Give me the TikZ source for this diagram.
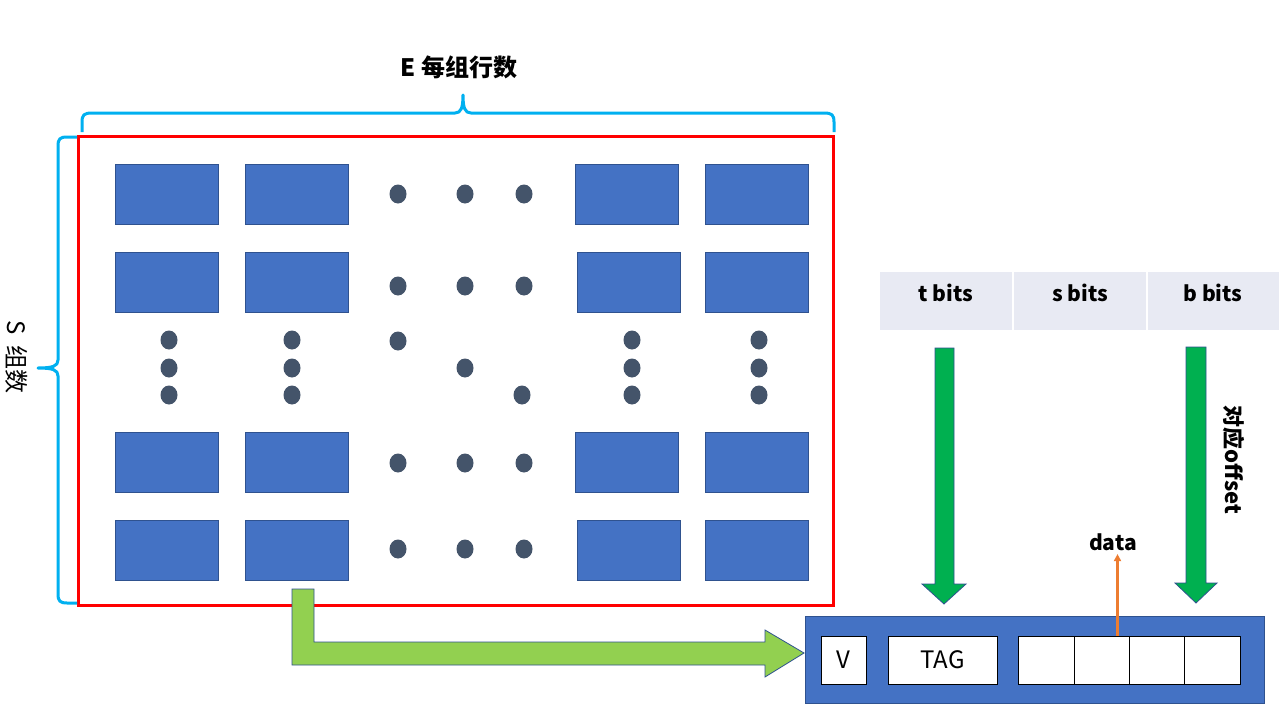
\documentclass[tikz,border=0pt]{standalone}
\usepackage{fontspec}
\setmainfont{Noto Sans CJK SC}
\usetikzlibrary{arrows.meta,calc}
\definecolor{blk}{HTML}{4472C4}
\definecolor{blkedge}{HTML}{2F528F}
\definecolor{dotc}{HTML}{44546A}
\definecolor{bracec}{HTML}{00B0F0}
\definecolor{addrc}{HTML}{E8EAF3}
\definecolor{gdark}{HTML}{00B050}
\definecolor{glight}{HTML}{92D050}
\definecolor{orangec}{HTML}{ED7D31}
\tikzset{
  lineblk/.style={draw=blkedge, fill=blk, line width=0.8pt, minimum width=103pt, minimum height=60pt, inner sep=0pt},
  dotnode/.style={fill=dotc, ellipse, minimum width=17pt, minimum height=19pt, inner sep=0pt},
  addrbox/.style={fill=addrc, minimum width=132pt, minimum height=58pt, inner sep=0pt},
  cellbox/.style={draw=black, fill=white, line width=0.9pt, inner sep=0pt, minimum height=48pt},
  lbl/.style={font=\fontsize{24}{28}\selectfont, text=black},
  blbl/.style={font=\bfseries\fontsize{20}{24}\selectfont, text=black},
  bigarrow/.style={draw=blkedge, line width=0.8pt},
  bracepath/.style={draw=bracec, line width=3pt, line join=round}
}
\usetikzlibrary{shapes.geometric}
\begin{document}
\begin{tikzpicture}[x=1pt,y=-1pt]
\path[use as bounding box, fill=white] (0,0) rectangle (1280,720);

% blocks
\foreach \r/\y in {1/194,2/282,4/462,5/550}{
  \node[lineblk] (b\r a) at (166.5,\y) {};
  \node[lineblk] (b\r b) at (297,\y) {};
}
\node[lineblk] (b1c) at (626.5,194) {};
\node[lineblk] (b1d) at (756.5,194) {};
\node[lineblk] (b2c) at (628.5,282) {};
\node[lineblk] (b2d) at (756.5,282) {};
\node[lineblk] (b4c) at (626.5,462) {};
\node[lineblk] (b4d) at (756.5,462) {};
\node[lineblk] (b5c) at (628.5,550) {};
\node[lineblk] (b5d) at (756.5,550) {};

% dots
\foreach \y/\n in {194/1,286/2,463/4,549/5}{
  \node[dotnode] (d\n a) at (398,\y) {};
  \node[dotnode] (d\n b) at (465,\y) {};
  \node[dotnode] (d\n c) at (524,\y) {};
}
\foreach \x/\n in {169/a,292/b,632/c,759/d}{
  \node[dotnode] (v\n1) at (\x,340) {};
  \node[dotnode] (v\n2) at (\x,368) {};
  \node[dotnode] (v\n3) at (\x,395) {};
}
\node[dotnode] (g1) at (398,341) {};
\node[dotnode] (g2) at (465,368) {};
\node[dotnode] (g3) at (522,395) {};

% red frame
\node[draw=red, line width=3pt, minimum width=755pt, minimum height=469pt, inner sep=0pt] (frame) at (455.5,370.5) {};

% top brace
\draw[bracepath] (82,132) -- (82,122) .. controls (82,115) and (84,113) .. (92,113)
  -- (455,113) .. controls (461,113) and (463,108) .. (463,95)
  .. controls (463,108) and (465,113) .. (471,113) -- (824,113)
  .. controls (832,113) and (834,115) .. (834,122) -- (834,132);
\node[font=\bfseries\fontsize{24}{28}\selectfont] (elbl) at (459,67) {E 每组行数};

% left brace
\draw[bracepath] (77,137) -- (67,137) .. controls (60,137) and (58,139) .. (58,146)
  -- (58,360) .. controls (58,366) and (53,368) .. (38,368)
  .. controls (53,368) and (58,370) .. (58,376) -- (58,594)
  .. controls (58,601) and (60,603) .. (67,603) -- (77,603);
\node[lbl, rotate=-90] (slbl) at (17,357) {S\ \ 组数};

% address bits
\node[addrbox] (tb) at (946,301) {};
\node[addrbox] (sb) at (1080,301) {};
\node[addrbox, minimum width=131pt] (bb) at (1213.5,301) {};
\node[blbl, font=\bfseries\fontsize{21}{24}\selectfont] (tbt) at (946,293) {t bits};
\node[blbl, font=\bfseries\fontsize{21}{24}\selectfont] (sbt) at (1080,293) {s bits};
\node[blbl, font=\bfseries\fontsize{21}{24}\selectfont] (bbt) at (1213,293) {b bits};

% cache line
\node[draw=blkedge, fill=blk, line width=0.8pt, minimum width=459pt, minimum height=87pt, inner sep=0pt] (line) at (1034.5,659.5) {};
\node[cellbox, minimum width=45pt, lbl] (vbox) at (843.5,660) {V};
\node[cellbox, minimum width=109pt, lbl] (tag) at (942.5,660) {TAG};
\node[cellbox, minimum width=56pt] (c1) at (1046,660) {};
\node[cellbox, minimum width=55pt] (c2) at (1101.5,660) {};
\node[cellbox, minimum width=55pt] (c3) at (1156.5,660) {};
\node[cellbox, minimum width=56pt] (c4) at (1212,660) {};

% green down arrows
\draw[bigarrow, fill=gdark] (935,348) -- (954,348) -- (954,584) -- (966,584) -- (944,604) -- (922,584) -- (935,584) -- cycle;
\draw[bigarrow, fill=gdark] (1186,347) -- (1206,347) -- (1206,583) -- (1217,583) -- (1196,603) -- (1175,583) -- (1186,583) -- cycle;
\node[font=\bfseries\fontsize{22}{26}\selectfont, rotate=-90] (offl) at (1234,460) {对应offset};

% data arrow
\node[blbl, font=\bfseries\fontsize{21}{24}\selectfont] (datal) at (1113,542) {data};
\coordinate (dstart) at ($(c2.north)+(16,0)$);
\draw[orangec, line width=2.2pt, -{Triangle[length=7pt,width=7pt]}] (dstart) -- (dstart |- datal.south);

% light green bent arrow
\draw[bigarrow, fill=glight] (292,589) -- (314,589) -- (314,642) -- (765,642) -- (765,630) -- (804,653) -- (765,677) -- (765,665) -- (292,665) -- cycle;
\end{tikzpicture}
\end{document}
